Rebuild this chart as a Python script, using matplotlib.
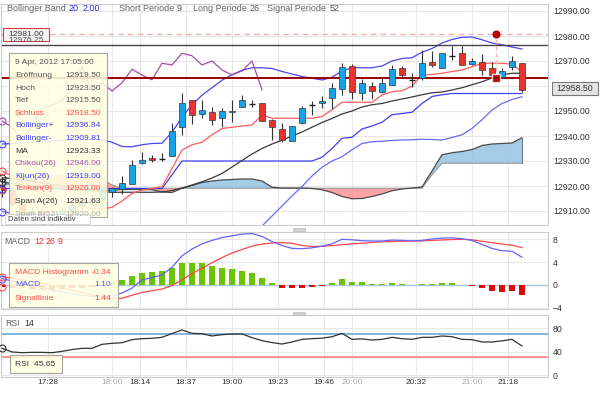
import matplotlib
matplotlib.use("Agg")
import matplotlib.pyplot as plt
from matplotlib.patches import Rectangle

plt.rcParams['font.family'] = ['Liberation Sans', 'DejaVu Sans']

# 5 minute candles from 17:05 to 21:25
opens = [12919.5, 12918.5, 12913.0, 12909.0, 12910.0, 12908.0, 12907.5, 12910.5, 12912.5, 12914.0, 12915.0,
         12917.75, 12918.8, 12920.7, 12929.1, 12931.3, 12931.0, 12932.0, 12943.7, 12954.3, 12948.7,
         12949.5, 12947.1, 12949.5, 12951.5, 12952.9, 12953.1, 12946.4, 12942.7, 12937.9, 12945.3,
         12952.4, 12953.3, 12955.1, 12958.7, 12968.0, 12957.3, 12960.1, 12957.5, 12960.4, 12967.1,
         12962.5, 12963.3, 12969.5, 12967.3, 12972.1, 12973.1, 12968.8, 12969.7, 12967.1, 12963.5,
         12967.5, 12969.1]
highs = [12923.5, 12919.0, 12914.0, 12911.5, 12911.0, 12910.0, 12911.5, 12913.0, 12915.0, 12916.5, 12919.5,
         12919.5, 12924.1, 12930.4, 12933.5, 12932.4, 12933.3, 12945.3, 12957.3, 12954.3, 12954.3,
         12951.7, 12951.3, 12954.3, 12956.4, 12954.3, 12953.1, 12946.8, 12945.3, 12944.1, 12952.1,
         12954.0, 12956.1, 12961.3, 12969.1, 12968.7, 12962.7, 12961.5, 12963.1, 12968.4, 12968.1,
         12965.2, 12974.4, 12974.0, 12973.1, 12976.1, 12976.1, 12971.1, 12972.7, 12969.5, 12967.1,
         12972.1, 12969.1]
lows = [12915.5, 12912.0, 12907.5, 12906.0, 12905.0, 12904.5, 12906.5, 12909.0, 12911.0, 12912.5, 12914.5,
        12915.5, 12916.7, 12920.7, 12928.7, 12929.7, 12930.0, 12932.0, 12940.4, 12944.7, 12947.3,
        12944.4, 12943.5, 12945.7, 12951.5, 12951.5, 12946.0, 12938.4, 12937.5, 12937.9, 12944.8,
        12948.4, 12951.1, 12950.7, 12956.4, 12954.8, 12954.4, 12954.8, 12957.1, 12960.4, 12963.5,
        12959.6, 12962.4, 12967.7, 12967.3, 12970.4, 12968.4, 12968.4, 12964.4, 12963.1, 12963.5,
        12966.4, 12957.5]
closes = [12918.5, 12913.0, 12909.0, 12910.0, 12908.0, 12907.5, 12910.5, 12912.5, 12914.0, 12915.0, 12918.0,
          12919.25, 12921.3, 12928.4, 12930.4, 12930.5, 12931.0, 12942.0, 12953.1, 12948.3, 12950.4,
          12946.4, 12950.1, 12950.1, 12954.3, 12952.9, 12946.0, 12943.6, 12938.4, 12944.1, 12951.1,
          12952.4, 12954.1, 12959.3, 12967.7, 12957.7, 12961.3, 12958.0, 12961.3, 12966.7, 12964.4,
          12962.5, 12969.1, 12968.4, 12973.1, 12972.1, 12968.4, 12970.0, 12966.4, 12964.4, 12966.0,
          12970.0, 12958.5]

ma = [12923.3, 12923.0, 12922.5, 12922.0, 12921.3, 12920.6, 12920.0, 12919.3, 12918.7, 12918.2, 12917.8,
      12917.5, 12917.5, 12917.5, 12917.5, 12917.5, 12917.6, 12918.2, 12919.2, 12920.4, 12921.7,
      12923.2, 12925.0, 12927.6, 12930.2, 12932.8, 12935.0, 12936.8, 12938.3, 12940.0, 12941.6,
      12943.5, 12945.4, 12947.0, 12948.8, 12950.0, 12951.6, 12952.5, 12953.0, 12954.0, 12954.8,
      12955.6, 12956.5, 12957.3, 12957.6, 12958.4, 12959.3, 12960.5, 12961.7, 12963.2, 12964.5,
      12965.1, 12965.1]
bb_upper = [12936.8, 12937.0, 12937.3, 12937.5, 12937.8, 12938.0, 12938.2, 12938.4, 12938.5, 12938.6, 12938.5,
            12937.5, 12935.8, 12935.7, 12936.5, 12937.0, 12937.1, 12941.5, 12947.5, 12952.5, 12956.3,
            12959.3, 12962.3, 12964.5, 12966.3, 12967.3, 12967.3, 12967.0, 12965.8, 12964.8, 12963.8,
            12963.1, 12962.4, 12963.5, 12966.0, 12967.3, 12967.3, 12967.3, 12968.0, 12970.0, 12971.0,
            12971.3, 12973.5, 12975.0, 12977.2, 12978.6, 12979.5, 12979.6, 12978.5, 12977.2, 12976.5,
            12975.6, 12974.8]
bb_lower = [12909.8, 12909.0, 12907.7, 12906.5, 12904.8, 12903.2, 12901.8, 12900.2, 12898.9, 12897.8, 12897.0,
            12897.5, 12899.2, 12899.3, 12898.5, 12898.0, 12898.1, 12895.0, 12891.0, 12888.3, 12887.1,
            12887.1, 12887.7, 12890.7, 12894.1, 12898.3, 12904.0, 12908.0, 12912.0, 12916.0, 12919.8,
            12924.0, 12927.5, 12930.0, 12931.7, 12934.5, 12937.0, 12937.7, 12937.9, 12938.2, 12938.4,
            12938.5, 12938.7, 12938.6, 12938.4, 12939.4, 12940.5, 12943.0, 12946.5, 12950.4, 12953.0,
            12954.6, 12955.7]
kijun = [12919.0, 12919.0, 12919.0, 12919.0, 12919.0, 12919.0, 12919.0, 12919.0, 12919.0, 12919.0, 12919.0,
         12919.0, 12919.0, 12919.0, 12919.0, 12919.0, 12919.0, 12924.5, 12930.0, 12930.0, 12930.0,
         12930.0, 12930.0, 12930.0, 12930.0, 12930.0, 12930.0, 12930.0, 12930.0, 12930.0, 12930.0,
         12930.0, 12931.5, 12935.0, 12939.1, 12939.5, 12942.8, 12944.0, 12945.5, 12948.5, 12949.0,
         12949.5, 12953.0, 12955.8, 12956.5, 12957.0, 12957.0, 12957.0, 12957.0, 12957.0, 12957.0,
         12957.0, 12957.0]
tenkan = [12926.0, 12924.0, 12921.5, 12919.0, 12917.0, 12915.5, 12914.0, 12913.0, 12912.0, 12911.0, 12910.8,
          12911.5, 12914.0, 12917.0, 12918.4, 12919.0, 12919.7, 12927.0, 12934.4, 12936.5, 12937.5,
          12940.5, 12943.0, 12943.5, 12944.0, 12944.4, 12948.4, 12947.1, 12947.1, 12947.1, 12947.1,
          12947.1, 12947.8, 12950.5, 12953.5, 12953.5, 12953.5, 12953.5, 12956.4, 12957.7, 12958.1,
          12960.0, 12964.4, 12964.6, 12965.1, 12965.8, 12966.4, 12967.7, 12969.1, 12969.1, 12969.1,
          12968.7, 12965.7]
span_a = [12921.6, 12921.0, 12920.4, 12919.8, 12919.3, 12918.9, 12918.6, 12918.4, 12918.2, 12918.1, 12918.1,
          12918.3, 12918.6, 12918.6, 12918.6, 12918.5, 12917.6, 12917.4, 12919.1, 12920.2, 12921.4,
          12922.0, 12922.4, 12922.6, 12922.8, 12922.8, 12922.0, 12919.5, 12919.2, 12919.2, 12919.2,
          12919.0, 12918.5, 12917.4, 12915.8, 12914.9, 12915.0, 12915.8, 12916.8, 12918.1, 12918.8,
          12919.2, 12919.6, 12926.0, 12932.5, 12933.3, 12933.8, 12934.6, 12936.2, 12936.8, 12937.0,
          12937.2, 12939.3]
span_b = [12920.0, 12921.0, 12922.0, 12923.0, 12923.5, 12924.0, 12924.0, 12924.0, 12923.8, 12923.5, 12923.0,
          12920.4, 12919.1, 12919.1, 12919.1, 12919.1, 12919.1, 12919.1, 12919.1, 12919.1, 12919.1,
          12919.1, 12919.1, 12919.1, 12919.1, 12919.1, 12919.1, 12919.1, 12919.1, 12919.1, 12919.1,
          12919.1, 12919.1, 12919.1, 12919.1, 12919.1, 12919.1, 12919.1, 12919.1, 12919.1, 12919.1,
          12919.1, 12919.1, 12924.5, 12929.1, 12929.1, 12929.1, 12929.1, 12929.1, 12929.1, 12929.1,
          12929.1, 12929.1]

macd = [1.10, 0.7, 0.3, -0.1, -0.5, -0.9, -1.2, -1.5, -1.8, -2.0, -2.1,
        -1.9, -1.4, -0.55, 0.9, 1.3, 1.75, 3.1, 5.1, 6.3, 7.2,
        7.8, 8.3, 8.6, 8.9, 9.0, 8.5, 7.6, 6.9, 6.4, 6.35,
        6.5, 6.8, 7.2, 8.0, 7.9, 7.75, 7.7, 7.7, 7.85, 7.8,
        7.7, 7.8, 8.05, 8.2, 8.25, 8.1, 7.8, 7.1, 6.4, 6.0,
        5.9, 4.85]
signal = [1.44, 1.2, 0.9, 0.6, 0.3, -0.1, -0.5, -0.9, -1.3, -1.7, -2.1,
          -2.5, -2.3, -1.8, -1.3, -1.0, -0.7, -0.1, 0.9, 2.0, 2.9,
          3.9, 4.8, 5.6, 6.2, 6.8, 7.15, 7.35, 7.4, 7.3, 6.9,
          6.75, 6.75, 6.9, 7.05, 7.2, 7.3, 7.45, 7.55, 7.6, 7.65,
          7.7, 7.7, 7.8, 7.87, 7.95, 7.99, 7.9, 7.65, 7.4, 7.15,
          6.95, 6.55]
hist = [-0.34, -0.5, -0.6, -0.7, -0.8, -0.8, -0.7, -0.6, -0.5, -0.3, 0.0,
        0.6, 0.87, 1.63, 2.16, 2.33, 2.45, 3.03, 3.9, 3.9, 3.8,
        3.32, 3.03, 2.74, 2.45, 2.04, 1.28, 0.41, -0.58, -0.6, -0.47,
        -0.35, -0.17, 0.29, 0.99, 0.58, 0.52, 0.17, 0.17, 0.29, 0.23,
        0.03, 0.17, 0.17, 0.35, 0.35, 0.05, -0.17, -0.58, -1.05, -1.17,
        -1.05, -1.75]
rsi = [45.7, 39.5, 38.2, 38.8, 38.8, 38.2, 40.5, 43.5, 45.7, 45.7, 52.5,
       54.2, 55.3, 60.5, 62.2, 62.8, 64.5, 71.0, 77.1, 71.3, 70.7,
       66.8, 69.0, 70.0, 70.3, 64.0, 58.8, 55.5, 53.0, 56.5, 61.0,
       62.2, 63.0, 65.5, 71.3, 61.0, 61.8, 59.9, 61.0, 64.5, 62.2,
       61.0, 64.5, 64.5, 66.8, 65.6, 61.0, 60.5, 56.5, 56.5, 58.5,
       61.0, 49.6]

tick_minutes = [23, 55, 69, 92, 115, 138, 161, 175, 207, 235, 253]
tick_labels = ['17:28', '18:00', '18:14', '18:37', '19:00', '19:23', '19:46', '20:00', '20:32', '21:00', '21:18']
hour_ticks = ['18:00', '20:00', '21:00']

times = [5 * i for i in range(len(opens))]  # minutes after 17:05

W, H = 600, 393
fig = plt.figure(figsize=(6, 3.93), dpi=100)


def box(x0, y0, x1, y1):
    return [x0 / W, 1 - y1 / H, (x1 - x0) / W, (y1 - y0) / H]


def ftext(x, y, s, **kw):
    kw.setdefault('fontsize', 6.1)
    kw.setdefault('va', 'center')
    fig.text(x / W, 1 - y / H, s, **kw)


def frect(x0, y0, x1, y1, **kw):
    fig.add_artist(Rectangle((x0 / W, 1 - y1 / H), (x1 - x0) / W, (y1 - y0) / H,
                             transform=fig.transFigure, **kw))


ax = fig.add_axes(box(1, 4, 548, 225))
ax2 = fig.add_axes(box(1, 232, 548, 309))
ax3 = fig.add_axes(box(1, 315, 548, 377))

for a in (ax, ax2, ax3):
    a.set_xlim(-0.5, 273)
    a.set_xticks(tick_minutes)
    for s in a.spines.values():
        s.set_color('#cccccc')
        s.set_linewidth(0.8)
    a.yaxis.tick_right()
    a.tick_params(length=0, labelsize=6.3, labelcolor='#333333', pad=3.5)
    a.grid(True, color='#e8e8e8', lw=0.8)
    a.set_axisbelow(True)
ax.tick_params(labelbottom=False)
ax2.tick_params(labelbottom=False)

# ---- main panel ----
ax.set_ylim(12904.4, 12992.8)
ax.set_yticks(range(12910, 12991, 10))
ax.set_yticklabels(['%.2f' % v for v in range(12910, 12991, 10)])

ax.fill_between(times, span_a, span_b, where=[a >= b for a, b in zip(span_a, span_b)],
                interpolate=True, color='#94c3e3', alpha=0.85, lw=0, zorder=1)
ax.fill_between(times, span_a, span_b, where=[a < b for a, b in zip(span_a, span_b)],
                interpolate=True, color='#ff9494', alpha=0.85, lw=0, zorder=1)
ax.plot(times, span_b, color='#999999', lw=0.8, zorder=2)
ax.plot(times, span_a, color='#4a4a4a', lw=0.9, zorder=2)
ax.plot([times[-1], times[-1]], [span_b[-1], span_a[-1]], color='#777777', lw=0.8, zorder=2)

ax.plot(times, bb_upper, color='#4848f0', lw=0.9, zorder=2)
ax.plot(times, bb_lower, color='#6a6af5', lw=0.9, zorder=2)
ax.plot(times, kijun, color='#4040f0', lw=0.9, zorder=2)
ax.plot(times, ma, color='#3a3a3a', lw=0.9, zorder=2)
ax.plot(times, tenkan, color='#ff5c5c', lw=0.9, zorder=2)
ax.plot(times[:27], closes[26:], color='#a84fa8', lw=0.9, zorder=2)

ax.axhline(12963.3, color='#990000', lw=1.4, zorder=2.5)
ax.axhline(12976.25, color='#444444', lw=1.0, zorder=2.5)
ax.axhline(12981, color='#eab4b4', lw=1.0, dashes=(4, 3), zorder=2.5)
ax.plot([247, 247], [12963.3, 12981], color='#f2bcbc', lw=1.0, dashes=(3, 2), zorder=2.5)

for t, o, h, l, c in zip(times, opens, highs, lows, closes):
    ax.vlines(t, l, h, color='#333333', lw=0.8, zorder=3)
    if abs(c - o) < 0.05:
        ax.hlines(c, t - 1.6, t + 1.6, color='#222222', lw=1.0, zorder=3)
        continue
    col = '#16a2e6' if c > o else '#e8342e'
    ax.bar(t, abs(c - o), bottom=min(o, c), width=2.9, color=col,
           edgecolor='#3a3a3a', lw=0.5, zorder=4)

ax.plot(247, 12981, 'o', color='#b30000', ms=4.8, zorder=5)
ax.plot(247, 12963.3, 's', mfc='#b30000', mec='#dddddd', mew=1.0, ms=5.5, zorder=5)

# crosshair markers on the hovered 17:05 bar
for v, col in [(closes[0], '#ff4d4d'), (bb_upper[0], '#4040f0'), (bb_lower[0], '#4040f0'),
               (ma[0], '#333333'), (closes[26], '#a84fa8'), (kijun[0], '#4040f0'),
               (tenkan[0], '#ff4d4d'), (span_a[0], '#333333')]:
    ax.plot(times[0], v, 'o', mfc='none', mec=col, ms=5, mew=0.8, clip_on=False, zorder=6)

# ---- MACD panel ----
ax2.set_ylim(-4.2, 9.27)
ax2.set_yticks([-4, 0, 4, 8])
ax2.axhline(0, color='#a9c9e2', lw=1.0, zorder=1)
ax2.bar(times, hist, width=3.0, color=['#6cc300' if h >= 0 else '#dd0a0a' for h in hist], zorder=2)
ax2.plot(times, signal, color='#ff4848', lw=0.9, zorder=3)
ax2.plot(times, macd, color='#6464f5', lw=0.9, zorder=3)
for v, col in [(hist[0], '#ff4848'), (macd[0], '#6464f5'), (signal[0], '#ff4848')]:
    ax2.plot(times[0], v, 'o', mfc='none', mec=col, ms=5, mew=0.8, clip_on=False, zorder=6)

# ---- RSI panel ----
ax3.set_ylim(-3.4, 102.7)
ax3.set_yticks([0, 40, 80])
ax3.axhline(70, color='#84b6d6', lw=1.4, zorder=1)
ax3.axhline(30, color='#ff9090', lw=1.4, zorder=1)
ax3.plot(times, rsi, color='#333333', lw=0.9, zorder=3)
ax3.plot(times[0], rsi[0], 'o', mfc='none', mec='#333333', ms=5, mew=0.8, clip_on=False, zorder=6)
ax3.set_xticklabels(tick_labels)
ax3.tick_params(axis='x', labelsize=6, pad=1.5)
for lab in ax3.get_xticklabels():
    lab.set_color('#aaaaaa' if lab.get_text() in hour_ticks else '#333333')

# ---- headers ----
ftext(7, 8.5, 'Bollinger Band', color='#666666', fontsize=6.5)
ftext(69, 8.5, '20', color='#2a2ae8', fontsize=6.5)
ftext(83, 8.5, '2.00', color='#2a2ae8', fontsize=6.5)
ftext(119, 8.5, 'Short Periode', color='#666666', fontsize=6.5)
ftext(177, 8.5, '9', color='#555555', fontsize=6.5)
ftext(193, 8.5, 'Long Periode', color='#666666', fontsize=6.5)
ftext(250, 8.5, '26', color='#555555', fontsize=6.5)
ftext(267, 8.5, 'Signal Periode', color='#666666', fontsize=6.5)
ftext(330, 8.5, '52', color='#555555', fontsize=6.5)

ftext(4, 241, 'MACD', color='#666666', fontsize=6.3)
ftext(34, 241, '12', color='#ee3333', fontsize=6.3)
ftext(46, 241, '26', color='#ee3333', fontsize=6.3)
ftext(58, 241, '9', color='#ee3333', fontsize=6.3)
ftext(5, 323, 'RSI', color='#666666', fontsize=6.3)
ftext(24, 323, '14', color='#333333', fontsize=6.3)

# price labels
ftext(8, 40.5, '12976.25', color='#555555')
frect(3, 28, 49, 41, facecolor='#f4f4f4', edgecolor='#dd3b3b', lw=0.8)
ftext(26, 34.5, '12981.00', color='#333333', ha='center')
frect(552, 82, 598, 95, facecolor='#e4e4e4', edgecolor='#777777', lw=0.8)
ftext(575, 88.5, '12958.50', color='#333333', ha='center', fontsize=6.3)

# grips between panels
frect(293, 227.5, 305, 230.5, facecolor='#d2d2d2', edgecolor='#bbbbbb', lw=0.5)
frect(293, 311.5, 305, 314.5, facecolor='#d2d2d2', edgecolor='#bbbbbb', lw=0.5)

# ---- tooltips ----
frect(9, 53, 107, 217, facecolor='#ffffe2', edgecolor='#999999', lw=0.8, alpha=0.88)
ftext(15, 63, '9 Apr, 2012 17:05:00', color='#555555')
rows = [('Eröffnung', '12919.50', '#555555'), ('Hoch', '12923.50', '#555555'),
        ('Tief', '12915.50', '#555555'), ('Schluss', '12918.50', '#ff4d4d'),
        ('Bollinger+', '12936.84', '#4040f0'), ('Bollinger-', '12909.81', '#4040f0'),
        ('MA', '12923.33', '#333333'), ('Chikou(26)', '12946.00', '#a84fa8'),
        ('Kijun(26)', '12919.00', '#4040f0'), ('Tenkan(9)', '12926.00', '#ff4d4d'),
        ('Span A(26)', '12921.63', '#333333'), ('Span B(52)', '12920.00', '#b0b0b0')]
for k, (name, val, col) in enumerate(rows):
    y = 75.5 + k * 12.6
    ftext(15, y, name, color=col)
    ftext(101, y, val, color=col, ha='right')
frect(5, 213.5, 90, 224, facecolor='white', edgecolor='#cccccc', lw=0.5)
ftext(8, 219, 'Daten sind indikativ', color='#444444', fontsize=5.6)

frect(9, 263, 118, 307, facecolor='#ffffe2', edgecolor='#999999', lw=0.8, alpha=0.88)
ftext(15, 272, 'MACD Histogramm', color='#ff4848')
ftext(111, 272, '-0.34', color='#ff4848', ha='right')
ftext(15, 285, 'MACD', color='#5a5af0')
ftext(111, 285, '1.10', color='#5a5af0', ha='right')
ftext(15, 298, 'Signallinie', color='#ff4848')
ftext(111, 298, '1.44', color='#ff4848', ha='right')

frect(10, 355, 62, 373, facecolor='#ffffe2', edgecolor='#999999', lw=0.8, alpha=0.9)
ftext(15, 364, 'RSI  45.65', color='#333333')

fig.savefig('out.png', dpi=100)
